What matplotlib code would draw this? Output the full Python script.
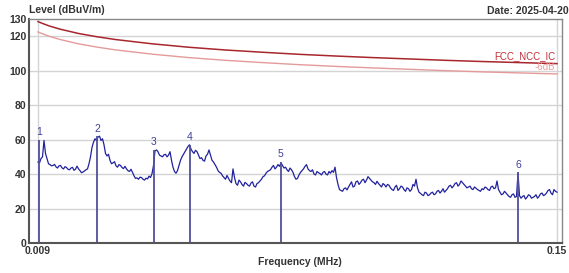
import numpy as np
import matplotlib.pyplot as plt

plt.rcParams['font.family'] = ['Liberation Sans', 'DejaVu Sans']

level = [
    47.0, 46.5, 49.0, 50.0, 59.5, 52.0, 49.0, 46.0, 45.5, 44.8,
    45.0, 45.6, 44.2, 43.5, 44.8, 45.0, 43.6, 43.0, 44.3, 43.8,
    42.8, 42.5, 43.5, 43.9, 42.2, 42.8, 44.6, 43.0, 42.0, 40.8,
    41.2, 41.8, 42.5, 43.0, 46.0, 50.0, 55.5, 58.5, 60.5, 59.5,
    61.5, 62.0, 59.5, 60.5, 57.0, 52.0, 50.5, 51.5, 48.0, 46.0,
    46.5, 47.2, 44.8, 44.0, 45.5, 45.0, 43.8, 43.2, 44.5, 43.0,
    42.0, 41.5, 42.8, 41.0, 39.0, 37.5, 37.8, 37.0, 38.2, 38.0,
    37.0, 36.5, 37.6, 37.2, 38.8, 38.0, 40.2, 45.0, 53.5, 54.0,
    53.0, 51.0, 50.5, 50.0, 51.2, 51.5, 50.0, 51.0, 53.0, 48.0,
    44.0, 41.5, 40.5, 42.0, 45.0, 48.0, 50.0, 51.5, 53.0, 54.5,
    56.0, 57.0, 54.5, 53.0, 52.0, 53.8, 53.0, 51.0, 49.0, 49.5,
    48.0, 47.5, 50.5, 51.5, 54.0, 51.0, 48.0, 47.0, 45.5, 44.0,
    42.0, 41.0, 40.5, 39.0, 38.0, 37.0, 39.2, 37.5, 36.0, 35.0,
    43.0, 38.0, 34.5, 33.5, 36.5, 35.5, 34.0, 33.0, 35.2, 34.5,
    33.5, 33.0, 34.8, 35.5, 33.0, 32.5, 34.5, 35.0, 36.0, 37.0,
    38.5, 39.0, 40.5, 41.5, 42.0, 42.5, 44.0, 45.0, 43.0, 44.0,
    45.5, 44.5, 46.5, 45.0, 43.5, 44.0, 42.5, 41.5, 43.5, 42.5,
    41.0, 38.5, 37.0, 37.5, 39.5, 41.0, 42.0, 43.0, 44.5, 45.5,
    43.0, 42.0, 41.5, 42.5, 40.0, 39.5, 41.5, 40.8, 40.3, 39.5,
    41.0, 41.5, 40.0, 39.5, 41.5, 40.5, 42.0, 41.0, 44.0, 38.0,
    34.0, 31.0, 30.5, 30.0, 31.5, 32.0, 30.8, 32.5, 34.0, 35.5,
    32.5, 33.0, 35.5, 36.0, 34.0, 35.0, 36.5, 37.0, 35.0, 36.5,
    38.5, 37.5, 36.5, 35.5, 35.0, 34.0, 35.8, 34.5, 33.5, 32.5,
    34.5, 33.8, 32.5, 34.0, 33.5, 32.0, 31.0, 30.5, 32.5, 33.5,
    30.5, 31.5, 33.0, 32.5, 31.0, 30.0, 32.0, 31.5, 30.0, 31.0,
    34.0, 33.0, 37.0, 32.0, 29.5, 28.8, 28.0, 27.5, 29.5, 29.0,
    27.5, 28.0, 29.0, 29.5, 28.0, 28.5, 30.0, 30.5, 29.0, 30.0,
    31.5, 29.5, 30.5, 31.5, 33.0, 33.5, 32.0, 33.0, 34.5, 35.0,
    33.0, 34.0, 36.0, 35.0, 34.0, 33.0, 32.0, 32.5, 33.0, 31.5,
    31.0, 32.5, 31.8, 31.0, 30.5, 30.0, 31.5, 31.0, 32.5, 32.0,
    31.0, 30.5, 32.5, 33.0, 31.5, 32.0, 36.0, 31.0, 29.5, 28.0,
    28.5, 30.0, 29.0, 28.0, 27.0, 26.5, 28.0, 28.5, 26.5, 27.0,
    40.5, 27.5, 26.0, 27.0, 27.5, 25.5, 26.5, 28.0, 27.5, 26.0,
    26.5, 27.0, 28.0, 26.0, 27.0, 28.5, 29.0, 27.5, 28.0, 29.0,
    30.5, 31.0, 29.0, 28.0, 31.0, 30.0, 29.5,
]
freq = np.linspace(0.009, 0.15, len(level))

# limit line (FCC_NCC_IC) and the -6dB line
lim_freq = [0.009, 0.010, 0.012, 0.015, 0.020, 0.025, 0.030, 0.040, 0.050, 0.060,
            0.070, 0.080, 0.090, 0.100, 0.110, 0.120, 0.130, 0.140, 0.150]
lim_level = [128.5, 127.6, 126.0, 124.1, 121.6, 119.7, 118.1, 115.6, 113.6, 112.0,
             110.7, 109.5, 108.5, 107.6, 106.8, 106.0, 105.3, 104.7, 104.1]
margin_level = [122.5, 121.6, 120.0, 118.1, 115.6, 113.7, 112.1, 109.6, 107.6, 106.0,
                104.7, 103.5, 102.5, 101.6, 100.8, 100.0, 99.3, 98.7, 98.1]

# marker points
mk_freq = [0.00936, 0.0250, 0.0405, 0.0502, 0.0750, 0.1394]
mk_level = [60.0, 62.0, 54.0, 57.0, 47.0, 41.0]
mk_names = ['1', '2', '3', '4', '5', '6']

fig = plt.figure(figsize=(5.69, 2.73), dpi=100)
ax = fig.add_axes([29 / 569, 30 / 273, 533 / 569, 224 / 273])

s = 0.141 / 519
ax.set_xlim(0.009 - 9 * s, 0.009 + 524 * s)
ax.set_ylim(0, 130)

for y in [20, 40, 60, 80, 100, 120]:
    ax.axhline(y, color='#d4d4d4', lw=1.0, zorder=0)
for x in [0.009, 0.15]:
    ax.axvline(x, color='#d4d4d4', lw=1.0, zorder=0)

ax.plot(lim_freq, lim_level, color='#a8262e', lw=1.1)
ax.plot(lim_freq, margin_level, color='#e59a9a', lw=1.0)
ax.plot(freq, level, color='#22229f', lw=0.9)

for f, v, n in zip(mk_freq, mk_level, mk_names):
    ax.vlines(f, 0, v, color='#50509a', lw=1.3)
    ax.text(f, v + 1.5, n, color='#40409a', fontsize=7.5, ha='center', va='bottom')

ax.text(0.1495, lim_level[-1] + 1.2, 'FCC_NCC_IC', color='#c0303a',
        fontsize=7, ha='right', va='bottom')
ax.text(0.1495, margin_level[-1] + 1.0, '-6dB', color='#eaa0a0',
        fontsize=7, ha='right', va='bottom')

ax.set_yticks([0, 20, 40, 60, 80, 100, 120, 130])
ax.set_yticklabels(['0', '20', '40', '60', '80', '100', '120', '130'])
ax.set_xticks([0.009, 0.15])
ax.set_xticklabels(['0.009', '0.15'])
ax.tick_params(length=0, labelsize=7.5, colors='#333333', pad=2)
for lab in ax.get_xticklabels() + ax.get_yticklabels():
    lab.set_fontweight('bold')

for side in ['left', 'bottom']:
    ax.spines[side].set_color('#555555')
    ax.spines[side].set_linewidth(1.5)
for side in ['top', 'right']:
    ax.spines[side].set_color('#888888')
    ax.spines[side].set_linewidth(1.0)

fig.text(29 / 569, 1 - 10 / 273, 'Level (dBuV/m)', fontsize=7.5, fontweight='bold',
         color='#333333', ha='left', va='center')
fig.text(1.0, 1 - 11 / 273, 'Date: 2025-04-20', fontsize=7.5, fontweight='bold',
         color='#333333', ha='right', va='center')
fig.text(300 / 569, 1 - 262 / 273, 'Frequency (MHz)', fontsize=7.5, fontweight='bold',
         color='#333333', ha='center', va='center')

fig.savefig('out.png', dpi=100)
